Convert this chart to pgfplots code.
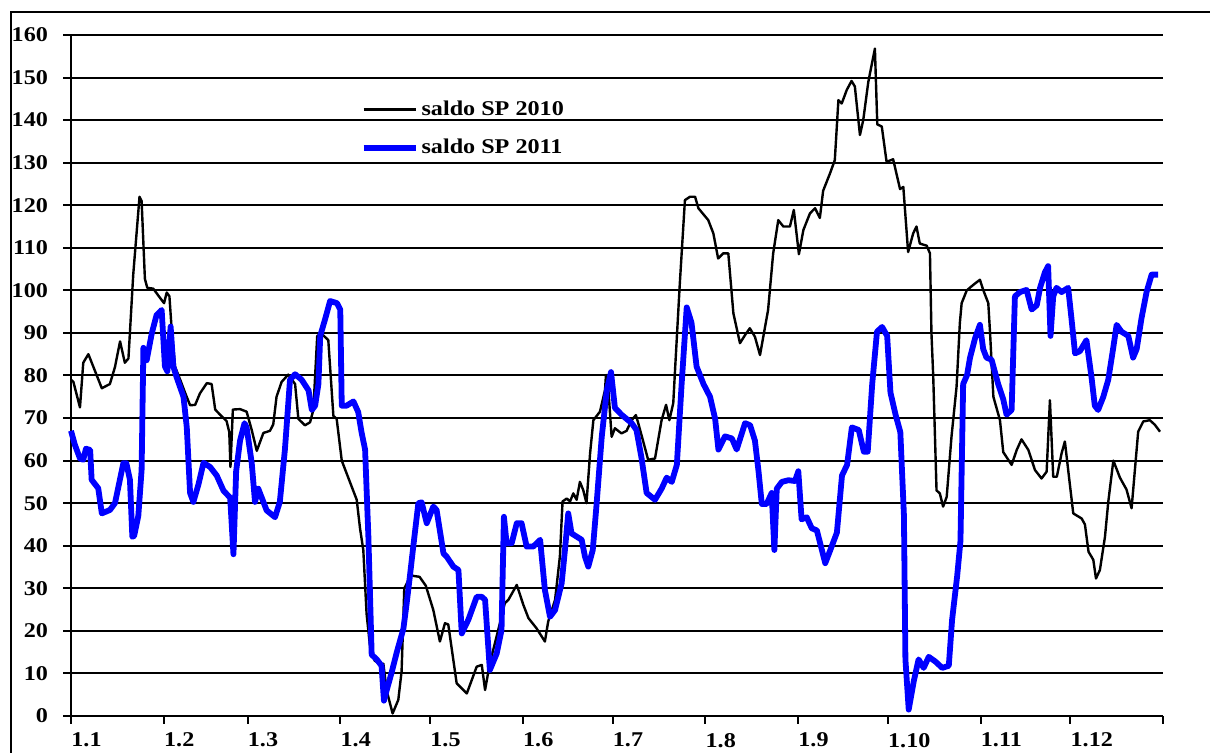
\documentclass[border=0pt]{standalone}
\usepackage{fontspec}
\setmainfont{Liberation Serif}[FakeStretch=1.15]
\usepackage{pgfplots}
\pgfplotsset{compat=1.18}
\begin{document}
\begin{tikzpicture}
\useasboundingbox (0pt,0pt) rectangle (605pt,376.5pt);
\draw[line width=1.1pt] (5.5pt,-10pt) rectangle (620pt,370.5pt);
\begin{axis}[
  at={(35.5pt,18.5pt)}, anchor=south west,
  width=546pt, height=340.5pt, scale only axis,
  xmin=0, xmax=365, ymin=0, ymax=160,
  axis lines=left, axis line style={-, line width=1.2pt, black},
  xtick={0,31,59,90,120,151,181,212,243,273,304,334,365},
  xticklabels={1.1,1.2,1.3,1.4,1.5,1.6,1.7,1.8,1.9,1.10,1.11,1.12,{}},
  ytick={0,10,...,160},
  tick align=outside, major tick length=4pt,
  tick style={black, line width=1pt},
  ymajorgrids, grid style={black, line width=1pt},
  ticklabel style={font=\fontsize{10.5}{12}\selectfont\bfseries},
  /pgf/number format/assume math mode=true,
  xticklabel style={anchor=north west, inner xsep=0pt, yshift=-1pt},
  yticklabel style={anchor=east, xshift=-4pt},
  clip=false,
  legend style={at={(0.265,0.907)}, anchor=north west, draw=none, fill=none,
    font=\fontsize{10.5}{12}\selectfont\bfseries, row sep=8.5pt, inner sep=0pt,
    nodes={inner xsep=1.5pt, inner ysep=1pt}},
  legend cell align=left,
  legend image code/.code={\draw[#1] (0pt,0pt) -- (26pt,0pt);},
]
\addplot[black, line width=1.2pt, line join=round] table {
0 79
0.8 78.5
3 72.5
4.1 83
5.8 85
7.5 82
10.3 77
13 78
14.7 82
16.4 88
18 83
19.2 84
20.8 103.7
22.9 122
23.6 121
24.7 102.7
25.5 100.6
27.5 100.4
29.8 98.2
31.1 97
32 99.5
32.9 98.6
33.7 90.3
34.8 82
36.5 79
38.1 76
39.8 73
41.5 73.1
43.1 75.8
45.4 78.2
47 78
48.2 72
49.8 70.8
52 69.3
52.9 66.7
53.3 58.5
54.1 72
56.5 72.1
58.7 71.5
60.4 67.2
62.1 62.3
64.3 66.5
66.5 67
67.6 68.5
68.7 75
70.4 78.5
72.6 80.2
74.9 78
76 69.8
78.2 68.3
79.9 69
81 71.9
82.3 89.3
83.8 89.8
86 88.3
87.7 70.5
88.8 69.8
90.5 60
92.4 56.5
95.5 50.8
96.6 44.1
97.7 39
98.8 24
100 16
101.5 13
103.8 12
104.4 12.3
105.5 6
107.5 0.6
109.4 3.8
110.5 10.5
111.4 30
113.6 33
116.5 32.7
118.6 30.6
121.1 24.9
123.3 17.5
125 21.8
126.1 21.5
128.9 7.7
132.3 5.3
135.6 11.6
137.3 12
138.4 6.1
140 12.4
142.8 20.2
145 26.5
146.2 27.3
149 30.8
151.2 26.1
152.9 23
155.6 20.6
158.4 17.5
159.5 22.2
161.8 27.3
163.4 37.4
164.3 50.4
165.7 51.1
166.8 50.4
167.9 52.3
169 50.8
170.1 55
171.2 53.1
172.3 50
173.5 61.7
174.6 69.5
176.8 71.5
178.5 76.6
178.8 80.1
179.3 80
180.7 65.6
181.8 67.6
184 66.4
185.7 67
187.4 69.5
188.8 70.7
189.6 68.8
191.3 64.4
192.9 60.2
195.2 60.5
197.4 69.5
198.9 73.1
200 69.5
201.3 73.5
201.9 81.3
203.5 101.7
205.2 121.2
206.9 122
208.6 122
209.7 119.3
213 116.5
214.7 113.4
216.3 107.5
218 108.7
219.7 108.7
221.4 94.6
223.6 87.6
225.3 89.5
226.9 91.1
228.6 89.1
230.3 84.8
233 95.4
234.7 108.7
236.4 116.5
238.1 115
240.3 115
241.6 118.9
243.3 108.5
244.8 114.2
247 118.1
248.7 119.3
250.3 117
251.4 123.4
253.7 127.5
255.3 130.6
256.5 144.7
257.6 143.9
259.3 147.1
260.9 149.2
262 147.9
263.7 136.5
264.8 140
266.5 149
268.7 156.8
269.5 139
271 138.5
272.6 130.2
274.8 130.8
277.1 123.8
278.2 124.3
279.8 109
281.5 113.4
282.6 115
283.7 111
286 110.5
287.1 108.7
287.6 90
288.2 79.7
289.3 53
290.4 52.3
291.5 49.2
292.7 51.5
294.3 65.6
296 77.4
297.1 92.4
297.7 97
299.4 100
301.6 101.3
303.8 102.5
304.9 100.1
306.6 97
307.2 89.9
308.3 75
310.5 69.5
311.6 62
314.4 59
316.1 62.5
317.7 65
320 62.5
322.2 57.8
324.4 55.8
326.1 57.4
327.2 74.2
328.3 56.2
329.5 56.2
331.1 61.7
332.2 64.5
333.6 56
335 47.6
337.8 46.4
338.9 45
340.1 38.6
341.7 36.7
342.6 32.3
343.9 34.3
345.6 42.1
346.7 50.3
348.4 60
350.6 56
352.8 53.2
354.5 48.8
355.6 57.8
356.7 66.8
358.4 69.2
360.6 69.5
362.3 68.4
364 66.8
};
\addlegendentry{saldo SP 2010}
\addplot[blue, line width=2.9pt, line join=round] table {
0 67
1.3 63.7
3 60.5
4.1 60.2
5 62.8
6.4 62.5
6.9 55.5
9.1 53.5
10.3 47.6
13 48.4
14.7 50
17.5 59.4
18.5 59.4
19.7 55.5
20.5 42.1
21.1 42.3
22.5 47
23.6 57.8
24.2 86.5
25.3 83.6
27 89.9
28.6 94.2
30.3 95.4
31.4 82.1
32.2 81
33.3 91.5
34.2 82.1
35.3 79.6
37.6 75
38.7 67.8
39.8 52.4
40.9 50.3
42.6 54.4
44.3 59.5
46.5 58.5
48.7 56.5
51 52.9
53.2 51.3
54.3 38
55.2 57.5
56.5 64.7
58 68.8
58.7 67.8
60.4 59.5
61.5 50.3
62.6 53.4
65.4 48.3
68.2 46.7
69.8 50.3
71.5 62.6
73.2 79
74.9 80.3
77.1 79
79.4 76.5
80.5 71.9
81.6 72.9
82.7 78
83.3 89.3
85 93.4
86.6 97.5
88.9 97
90 95.5
90.5 72.9
92.1 72.9
94.4 73.9
96 71.4
97.1 66.7
98.3 62.6
99.4 42.1
100.5 14.4
102.2 13.3
103.8 11.8
104.6 3.6
105.5 6
107.2 10.3
108.9 15
111.1 20.5
112.2 26.5
113.3 33
114.4 39.8
116.1 50
117.2 50.2
118.9 45.3
121.1 49.2
122.2 48.4
124.5 38.2
125.6 37.4
127.8 35.1
129.5 34.3
130.6 19.4
132.8 22.6
135.6 28
137.3 28
138.4 27.3
140 10.8
142.3 14.7
143.9 20.2
144.7 46.8
145.6 40.6
147.3 40.6
149 45.3
150.6 45.3
152.3 39.8
154.5 39.8
156.8 41.4
158.4 29.6
160.1 23.3
161.8 24.9
164 31.2
165.1 39
166.2 47.6
167.3 42.9
170.7 41.4
171.8 37.4
172.9 35.1
174.4 39
175.7 50
177.4 65.6
179.1 76.6
180.5 80.8
181.8 72.4
184 70.8
187.4 68.8
189 67.2
190.7 60.6
192.4 52.4
195.2 50.8
197.4 53.4
199.1 56
200.8 55
202.5 59
204.1 78
205.8 96
207.4 92.4
209.1 82.1
211.4 78
213.6 75
215.3 69.8
216.4 62.6
218.6 65.7
220.9 65.2
222.5 62.6
225.3 68.8
227 68.3
228.6 64.7
229.8 57.5
230.9 49.8
232.5 49.8
234.2 52.4
235.1 39
235.9 53.4
237.6 55
239.8 55.4
242 55.2
243.1 57.5
244.2 46.2
245.9 46.7
247.6 44.1
249.3 43.6
250.4 40.6
252.1 35.9
253.8 39
256 43.1
257.7 56.5
259.4 59
261 67.8
263.3 67.2
265 62.1
266.3 62.1
267.8 78
269.4 90.3
271.1 91.4
272.8 89.3
273.9 76
275.6 70.8
277.2 66.7
278.4 47.2
278.9 13.3
280 1.5
281.7 8.2
283.3 13.3
285 11.3
286.7 13.9
288.9 12.8
291.2 11.3
293.4 11.8
294.5 22.6
296.2 32.9
297.3 41.1
298.2 78
299.5 80.1
300.5 84.2
302.2 88.8
303.8 91.9
304.9 86.2
306 84.2
307.7 83.7
309.9 78
311.6 74.4
312.7 70.8
314.4 71.9
315.5 98.6
317.2 99.6
319.4 100.1
321.1 95.5
322.8 96.5
323.9 100.6
325.5 104.2
326.6 105.7
327.4 89.3
328.3 98.6
329.4 100.6
331.1 99.6
333.3 100.6
334.4 93.4
335.6 85.2
337.2 85.7
339.4 88.3
341.1 79.6
342.2 72.9
343.3 71.9
345 74.9
346.7 79
348.3 86.2
349.5 91.9
351.1 90.3
353.4 89.3
355 84.2
356.2 86.2
357.8 93.4
359.5 99.6
361.2 103.7
363.4 103.7
};
\addlegendentry{saldo SP 2011}
\end{axis}
\end{tikzpicture}
\end{document}
